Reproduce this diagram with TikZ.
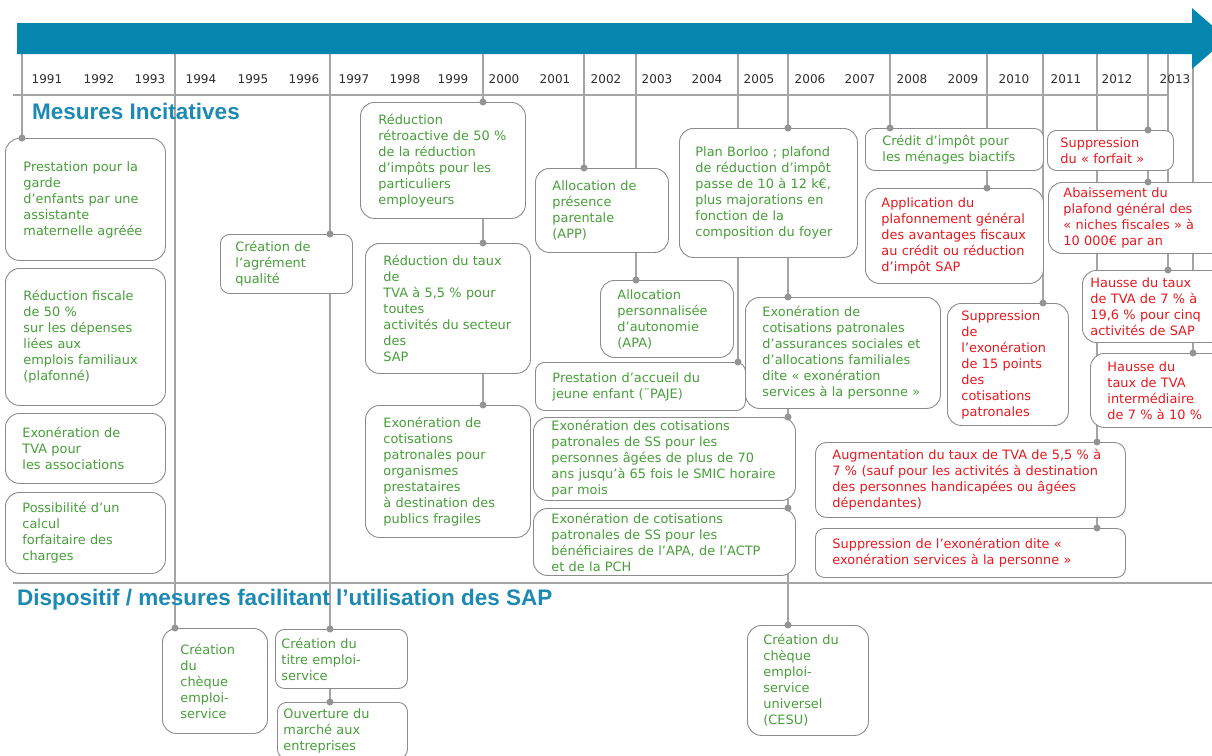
\documentclass[tikz,border=0pt]{standalone}
\usepackage{fontspec}
\setmainfont{DejaVu Sans}
\newfontfamily\headfont{Liberation Sans}
\usetikzlibrary{backgrounds}

\definecolor{bandblue}{RGB}{4,134,175}
\definecolor{headblue}{RGB}{28,138,178}
\definecolor{gtext}{RGB}{72,158,58}
\definecolor{rtext}{RGB}{228,26,32}
\definecolor{boxgray}{RGB}{140,140,140}
\definecolor{linegray}{RGB}{165,165,165}
\definecolor{yeartext}{RGB}{45,45,45}

\hyphenpenalty=10000
\exhyphenpenalty=10000

\begin{document}
\begin{tikzpicture}[x=1pt,y=-1pt,
  mbox/.style={draw=boxgray, line width=0.9pt, fill=white, rounded corners=14pt,
    anchor=north west, align=left, inner ysep=2pt, font=\fontsize{12.9}{16}\selectfont},
  vertbox/.style={mbox, text=gtext},
  rougebox/.style={mbox, text=rtext},
  petit/.style={rounded corners=9pt},
  annee/.style={text=yeartext, font=\fontsize{12}{14}\selectfont},
  rubrique/.style={anchor=base west, text=headblue, inner sep=0pt,
    font=\headfont\bfseries\fontsize{22.5}{26}\selectfont},
  lien/.style={draw=linegray, line width=1.1pt},
  regle/.style={draw=linegray, line width=1.3pt},
  point/.style={fill=linegray!90!black}]

\useasboundingbox (0,0) rectangle (1212,755);
\begin{pgfonlayer}{background}
\fill[white] (0,0) rectangle (1212,755);
\end{pgfonlayer}
\clip (0,0) rectangle (1212,755);

% Timeline band
\fill[bandblue] (17,23) -- (1192,23) -- (1192,8) -- (1227,38.5) -- (1192,69) -- (1192,54) -- (17,54) -- cycle;

% Years
\foreach \yr/\xx in {1991/47,1992/99,1993/150,1994/201,1995/253,1996/304,1997/354,1998/405,
  1999/453,2000/504,2001/555,2002/606,2003/657,2004/707,2005/759,2006/810,2007/860,
  2008/912,2009/963,2010/1014,2011/1066,2012/1117,2013/1175}
  \node[annee] (a\yr) at (\xx,79) {\yr};

% Year marks under the band
\coordinate (s1991) at (22,54);
\coordinate (s1994) at (175,54);
\coordinate (s1997) at (330,54);
\coordinate (s2000) at (483,54);
\coordinate (s2002) at (584,54);
\coordinate (s2003) at (636,54);
\coordinate (s2005) at (738,54);
\coordinate (s2006) at (788,54);
\coordinate (s2008) at (890,54);
\coordinate (s2010) at (987,54);
\coordinate (s2011) at (1043,54);
\coordinate (s2012) at (1097,54);
\coordinate (s2013) at (1148,54);
\coordinate (s2013b) at (1168,54);
\coordinate (s2014) at (1193,54);

% Rules and headings
\draw[regle] (13,95) -- (1168,95);
\draw[regle] (13,583) -- (1212,583);
\node[rubrique] (mesures) at (32,119) {Mesures Incitatives};
\node[rubrique] (dispositif) at (17,605) {Dispositif / mesures facilitant l’utilisation des SAP};

% Mesures incitatives, 1991-1993
\node[vertbox, inner xsep=18pt, text width=124pt, minimum height=122pt] (garde) at (5,138)
  {Prestation pour la\\garde\\d'enfants par une\\assistante\\maternelle agréée};
\node[vertbox, inner xsep=18pt, text width=124pt, minimum height=137pt] (fiscale) at (5,268)
  {Réduction fiscale\\de 50 \%\\sur les dépenses\\liées aux\\emplois familiaux\\(plafonné)};
\node[vertbox, inner xsep=17pt, text width=126pt, minimum height=70pt] (tvaasso) at (5,413)
  {Exonération de\\TVA pour\\les associations};
\node[vertbox, inner xsep=17pt, text width=126pt, minimum height=81pt] (calcul) at (5,492)
  {Possibilité d'un\\calcul\\forfaitaire des\\charges};

% 1994-1999
\node[vertbox, petit, inner xsep=15pt, text width=102pt, minimum height=59pt] (agrement) at (220,234)
  {Création de\\l'agrément\\qualité};
\node[vertbox, inner xsep=18pt, text width=129pt, minimum height=116pt] (retro) at (360,102)
  {Réduction\\rétroactive de 50 \%\\de la réduction\\d'impôts pour les\\particuliers\\employeurs};
\node[vertbox, inner xsep=18pt, text width=129pt, minimum height=130pt] (tva55) at (365,243)
  {Réduction du taux\\de\\TVA à 5,5 \% pour\\toutes\\activités du secteur\\des\\SAP};
\node[vertbox, inner xsep=18pt, text width=129pt, minimum height=132pt] (prestataires) at (365,405)
  {Exonération de\\cotisations\\patronales pour\\organismes\\prestataires\\à destination des\\publics fragiles};

% 2001-2005
\node[vertbox, inner xsep=17pt, text width=99pt, minimum height=84pt] (app) at (535,168)
  {Allocation de\\présence\\parentale\\(APP)};
\node[vertbox, inner xsep=17pt, text width=99pt, minimum height=77pt] (apa) at (600,280)
  {Allocation\\personnalisée\\d'autonomie\\(APA)};
\node[vertbox, petit, inner xsep=17pt, text width=176pt, minimum height=48pt] (paje) at (535,362)
  {Prestation d'accueil du\\jeune enfant (¨PAJE)};
\node[vertbox, inner xsep=18pt, text width=226pt, minimum height=83pt] (ages70) at (533,417)
  {Exonération des cotisations\\patronales de SS pour les\\personnes âgées de plus de 70\\ans jusqu'à 65 fois le SMIC horaire\\par mois};
\node[vertbox, inner xsep=18pt, text width=226pt, minimum height=67pt] (apactp) at (533,508)
  {Exonération de cotisations\\patronales de SS pour les\\bénéficiaires de l'APA, de l'ACTP\\et de la PCH};
\node[vertbox, inner xsep=16pt, text width=146pt, minimum height=129pt] (borloo) at (679,128)
  {Plan Borloo ; plafond\\de réduction d'impôt\\passe de 10 à 12 k€,\\plus majorations en\\fonction de la\\composition du foyer};
\node[vertbox, inner xsep=17pt, text width=161pt, minimum height=111pt] (exosap) at (745,297)
  {Exonération de\\cotisations patronales\\d'assurances sociales et\\d'allocations familiales\\dite « exonération\\services à la personne »};

% 2007-2013
\node[vertbox, petit, inner xsep=17pt, text width=144pt, minimum height=42pt] (biactifs) at (865,128)
  {Crédit d'impôt pour\\les ménages biactifs};
\node[rougebox, inner xsep=16pt, text width=146pt, minimum height=95pt] (plafonnement) at (865,188)
  {Application du\\plafonnement général\\des avantages fiscaux\\au crédit ou réduction\\d'impôt SAP};
\node[rougebox, inner xsep=14pt, text width=93pt, minimum height=122pt] (quinze) at (947,303)
  {Suppression\\de\\l'exonération\\de 15 points\\des\\cotisations\\patronales};
\node[rougebox, petit, inner xsep=13pt, text width=100pt, minimum height=40pt] (suppforfait) at (1047,130)
  {Suppression\\du « forfait »};
\node[rougebox, inner xsep=15pt, text width=147pt, minimum height=71pt] (niches) at (1048,182)
  {Abaissement du\\plafond général des\\« niches fiscales » à\\10 000€ par an};
\node[rougebox, inner xsep=8pt, text width=127pt, minimum height=72pt] (tva196) at (1082,270)
  {Hausse du taux\\de TVA de 7 \% à\\19,6 \% pour cinq\\activités de SAP};
\node[rougebox, inner xsep=17pt, text width=101pt, minimum height=74pt] (tva10) at (1090,353)
  {Hausse du\\taux de TVA\\intermédiaire\\de 7 \% à 10 \%};
\node[rougebox, inner xsep=17pt, text width=276pt, minimum height=75pt, rounded corners=11pt] (tva7) at (815,442)
  {Augmentation du taux de TVA de 5,5 \% à\\7 \% (sauf pour les activités à destination\\des personnes handicapées ou âgées\\dépendantes)};
\node[rougebox, petit, inner xsep=17pt, text width=276pt, minimum height=49pt] (suppsap) at (815,528)
  {Suppression de l'exonération dite «\\exonération services à la personne »};

% Dispositif / mesures facilitant
\node[vertbox, inner xsep=18pt, text width=69pt, minimum height=105pt] (cheque) at (162,628)
  {Création\\du\\chèque\\emploi-\\service};
\node[vertbox, petit, inner xsep=6pt, text width=120pt, minimum height=59pt] (titre) at (275,629)
  {Création du\\titre emploi-\\service};
\node[vertbox, petit, inner xsep=6pt, text width=118pt, minimum height=56pt] (marche) at (277,702)
  {Ouverture du\\marché aux\\entreprises};
\node[vertbox, inner xsep=16pt, text width=89pt, minimum height=110pt] (cesu) at (747,625)
  {Création du\\chèque\\emploi-\\service\\universel\\(CESU)};

% Links from the band, behind the boxes
\begin{pgfonlayer}{background}
\draw[lien] (s1991) -- (garde.north -| s1991);
\draw[lien] (s1994) -- (cheque.north -| s1994);
\draw[lien] (s1997) -- (marche.north -| s1997);
\draw[lien] (s2000) -- (prestataires.north -| s2000);
\draw[lien] (s2002) -- (app.north -| s2002);
\draw[lien] (s2003) -- (apa.north -| s2003);
\draw[lien] (s2005) -- (paje.north -| s2005);
\draw[lien] (s2006) -- (cesu.north -| s2006);
\draw[lien] (s2008) -- (biactifs.north -| s2008);
\draw[lien] (s2010) -- (plafonnement.north -| s2010);
\draw[lien] (s2011) -- (quinze.north -| s2011);
\draw[lien] (s2012) -- (suppsap.north -| s2012);
\draw[lien] (s2013) -- (niches.north -| s2013);
\draw[lien] (s2013b) -- (tva196.north -| s2013b);
\draw[lien] (s2014) -- (tva10.north -| s2014);
\end{pgfonlayer}

% Dots where the links meet the boxes
\foreach \b/\s in {garde/s1991, cheque/s1994, agrement/s1997, titre/s1997, marche/s1997,
  retro/s2000, tva55/s2000, prestataires/s2000, app/s2002, apa/s2003, paje/s2005,
  borloo/s2006, exosap/s2006, ages70/s2006, apactp/s2006, cesu/s2006, biactifs/s2008,
  plafonnement/s2010, quinze/s2011, tva7/s2012, suppsap/s2012, suppforfait/s2013,
  niches/s2013, tva196/s2013b, tva10/s2014}
  \fill[point] (\b.north -| \s) circle (3.5pt);

\end{tikzpicture}
\end{document}
